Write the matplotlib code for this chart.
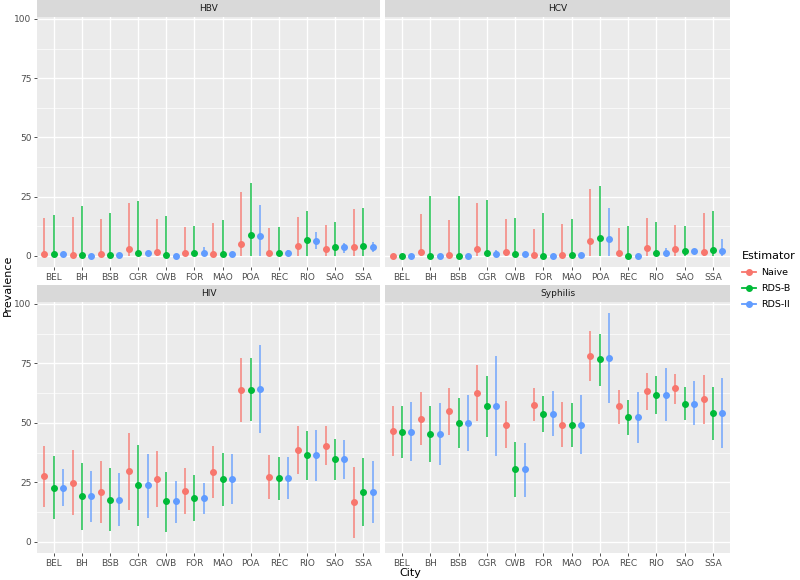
import numpy as np
import matplotlib
matplotlib.use("Agg")
import matplotlib.pyplot as plt
from matplotlib.lines import Line2D

cities = ["BEL", "BH", "BSB", "CGR", "CWB", "FOR", "MAO", "POA", "REC", "RIO", "SAO", "SSA"]
estimators = ["Naive", "RDS-B", "RDS-II"]
colors = {"Naive": "#F8766D", "RDS-B": "#00BA38", "RDS-II": "#619CFF"}

# HBV
hbv_naive = [0.85, 0.4, 0.85, 2.8, 1.8, 1.3, 0.7, 5.0, 1.0, 4.0, 2.7, 3.8]
hbv_naive_lo = [0, 0, 0, 0, 0, 0, 0, 0, 0, 0, 0, 0]
hbv_naive_hi = [15.8, 16.3, 15.6, 22.2, 15.6, 12.2, 13.8, 27.1, 11.8, 16.6, 13.1, 19.7]
hbv_rdsb = [0.7, 0.3, 0.4, 1.3, 0.4, 1.3, 0.85, 8.7, 1.0, 6.5, 3.6, 4.1]
hbv_rdsb_lo = [0, 0, 0, 0, 0, 0, 0, 0, 0, 0, 0, 0]
hbv_rdsb_hi = [17.2, 21.0, 17.9, 23.3, 16.8, 12.6, 15.2, 30.8, 12.2, 19.0, 14.1, 20.3]
hbv_rdsii = [0.6, 0.15, 0.3, 1.0, 0.15, 1.3, 0.7, 8.4, 1.0, 6.4, 3.6, 3.8]
hbv_rdsii_lo = [0.2, 0, 0, 0.5, 0, 0, 0.3, 0, 0, 2.8, 1.4, 1.7]
hbv_rdsii_hi = [1.2, 0.5, 0.7, 1.6, 0.4, 3.8, 1.2, 21.6, 2.4, 9.9, 5.5, 6.0]

# HCV
hcv_naive = [0, 1.8, 0.3, 2.8, 1.8, 0.3, 0.3, 6.4, 1.0, 3.3, 2.7, 1.8]
hcv_naive_lo = [0, 0, 0, 0, 0, 0, 0, 0, 0, 0, 0, 0]
hcv_naive_hi = [0, 17.5, 15.2, 22.2, 15.6, 11.4, 13.5, 28.1, 11.8, 15.8, 12.9, 17.9]
hcv_rdsb = [0, 0, 0, 1.1, 0.7, 0, 0.4, 7.5, 0.15, 1.1, 2.1, 2.3]
hcv_rdsb_lo = [0, 0, 0, 0, 0, 0, 0, 0, 0, 0, 0, 0]
hcv_rdsb_hi = [0, 25.3, 25.4, 23.6, 15.9, 17.9, 15.5, 29.5, 12.6, 14.5, 12.6, 19.0]
hcv_rdsii = [0, 0, 0, 0.85, 0.7, 0, 0.3, 7.2, 0.15, 1.1, 2.0, 2.1]
hcv_rdsii_lo = [0, 0, 0, 0, 0, 0, 0, 0, 0, 0, 1.5, 0]
hcv_rdsii_hi = [0, 0, 0, 2.5, 1.2, 0, 0.6, 20.2, 0.4, 3.3, 2.5, 7.0]

# HIV
hiv_naive = [27.5, 24.9, 20.9, 29.6, 26.4, 21.5, 29.5, 63.9, 27.2, 38.8, 40.4, 16.9]
hiv_naive_lo = [14.5, 11.1, 7.9, 13.2, 14.5, 11.8, 18.4, 50.4, 18.0, 28.7, 32.2, 1.8]
hiv_naive_hi = [40.3, 38.5, 34.0, 45.9, 38.2, 31.0, 40.4, 77.4, 36.5, 48.7, 48.5, 31.6]
hiv_rdsb = [22.8, 19.1, 17.7, 23.7, 17.0, 18.3, 26.3, 63.9, 26.8, 36.5, 34.7, 21.1]
hiv_rdsb_lo = [9.6, 4.8, 4.4, 6.5, 4.2, 8.6, 15.0, 50.6, 17.6, 26.1, 26.1, 6.5]
hiv_rdsb_hi = [36.1, 33.3, 31.0, 40.9, 29.5, 28.1, 37.5, 77.2, 35.8, 46.5, 43.1, 35.3]
hiv_rdsii = [22.8, 19.1, 17.7, 23.7, 17.0, 18.3, 26.3, 64.3, 26.8, 36.5, 34.7, 21.1]
hiv_rdsii_lo = [14.9, 8.3, 6.5, 10.1, 8.0, 11.5, 15.7, 45.8, 17.8, 25.7, 26.5, 7.7]
hiv_rdsii_hi = [30.6, 29.6, 28.9, 37.1, 25.7, 24.9, 37.1, 82.9, 35.5, 47.2, 42.8, 34.1]

# Syphilis
syp_naive = [46.6, 51.7, 54.8, 62.6, 49.2, 57.7, 49.3, 78.1, 56.9, 63.5, 64.5, 60.0]
syp_naive_lo = [36.0, 40.7, 44.9, 50.6, 39.3, 50.6, 40.0, 67.4, 49.6, 55.6, 58.1, 49.6]
syp_naive_hi = [57.2, 62.8, 64.6, 74.4, 59.0, 64.7, 58.7, 88.5, 63.8, 71.1, 70.6, 70.1]
syp_rdsb = [46.3, 45.4, 49.9, 56.9, 30.5, 53.8, 49.3, 76.7, 52.4, 61.9, 58.1, 54.1]
syp_rdsb_lo = [35.4, 33.6, 39.5, 44.0, 19.0, 46.3, 39.7, 65.7, 44.9, 53.8, 51.3, 43.0]
syp_rdsb_hi = [57.0, 56.9, 60.3, 69.5, 42.0, 61.1, 58.4, 87.4, 59.7, 69.5, 64.9, 64.9]
syp_rdsii = [46.3, 45.4, 49.9, 57.2, 30.5, 53.8, 49.3, 77.2, 52.4, 61.9, 58.1, 54.1]
syp_rdsii_lo = [33.8, 32.4, 38.1, 36.2, 19.0, 44.4, 36.8, 58.4, 41.6, 50.6, 48.9, 39.5]
syp_rdsii_hi = [58.8, 58.3, 61.7, 77.9, 41.7, 63.5, 61.7, 96.1, 63.1, 73.2, 67.6, 68.8]

panels = [
    ("HBV", [(hbv_naive, hbv_naive_lo, hbv_naive_hi), (hbv_rdsb, hbv_rdsb_lo, hbv_rdsb_hi),
             (hbv_rdsii, hbv_rdsii_lo, hbv_rdsii_hi)]),
    ("HCV", [(hcv_naive, hcv_naive_lo, hcv_naive_hi), (hcv_rdsb, hcv_rdsb_lo, hcv_rdsb_hi),
             (hcv_rdsii, hcv_rdsii_lo, hcv_rdsii_hi)]),
    ("HIV", [(hiv_naive, hiv_naive_lo, hiv_naive_hi), (hiv_rdsb, hiv_rdsb_lo, hiv_rdsb_hi),
             (hiv_rdsii, hiv_rdsii_lo, hiv_rdsii_hi)]),
    ("Syphilis", [(syp_naive, syp_naive_lo, syp_naive_hi), (syp_rdsb, syp_rdsb_lo, syp_rdsb_hi),
                  (syp_rdsii, syp_rdsii_lo, syp_rdsii_hi)]),
]

W, H = 800, 580
fig = plt.figure(figsize=(8, 5.8), dpi=100)

# panel boxes in pixels
lefts = [37, 385]
widths = [343, 345]
rows = [(17, 267), (302, 553)]
strip_h = 17

x = np.arange(len(cities))
offsets = [-1 / 3, 0, 1 / 3]

for i, (name, series) in enumerate(panels):
    r, c = divmod(i, 2)
    top, bot = rows[r]
    ax = fig.add_axes([lefts[c] / W, 1 - bot / H, widths[c] / W, (bot - top) / H])
    ax.set_facecolor("#EBEBEB")
    for s in ax.spines.values():
        s.set_visible(False)
    ax.set_xlim(-0.6, len(cities) - 0.4)
    ax.set_ylim(-4.7, 100.8)
    ax.set_yticks([0, 25, 50, 75, 100])
    ax.set_yticks([12.5, 37.5, 62.5, 87.5], minor=True)
    ax.set_xticks(x)
    ax.set_xticklabels(cities)
    ax.grid(True, which="major", color="white", lw=1.0)
    ax.grid(True, which="minor", axis="y", color="white", lw=0.5)
    ax.set_axisbelow(True)
    ax.tick_params(which="major", length=2.5, width=0.6, color="#333333", labelsize=6.5,
                   labelcolor="#4D4D4D", pad=1.5)
    ax.tick_params(which="minor", length=0)
    if c == 1:
        ax.tick_params(axis="y", left=False, labelleft=False)

    for k, est in enumerate(estimators):
        vals, lo, hi = series[k]
        xs = x + offsets[k]
        ax.vlines(xs, lo, hi, color=colors[est], lw=1.3, alpha=0.75, zorder=2)
        ax.plot(xs, vals, "o", color=colors[est], ms=4, zorder=3)

    sax = fig.add_axes([lefts[c] / W, 1 - top / H, widths[c] / W, strip_h / H])
    sax.set_facecolor("#D9D9D9")
    sax.set_xticks([])
    sax.set_yticks([])
    for s in sax.spines.values():
        s.set_visible(False)
    sax.text(0.5, 0.5, name, ha="center", va="center", fontsize=6.5, color="#1A1A1A",
             transform=sax.transAxes)

fig.text(410 / W, 1 - 573 / H, "City", ha="center", va="center", fontsize=8)
fig.text(8 / W, 1 - 285 / H, "Prevalence", ha="center", va="center", rotation=90, fontsize=8)

handles = [Line2D([0], [0], color=colors[e], marker="o", ms=4, lw=1.3) for e in estimators]
leg = fig.legend(handles, estimators, title="Estimator", loc="upper left",
                 bbox_to_anchor=(740 / W, 1 - 249 / H), frameon=False, fontsize=6.8,
                 title_fontsize=8, handlelength=1.5, handletextpad=0.5, labelspacing=0.75,
                 borderaxespad=0, borderpad=0.2)
leg._legend_box.align = "left"

fig.savefig("out.png", dpi=100, facecolor="white")
